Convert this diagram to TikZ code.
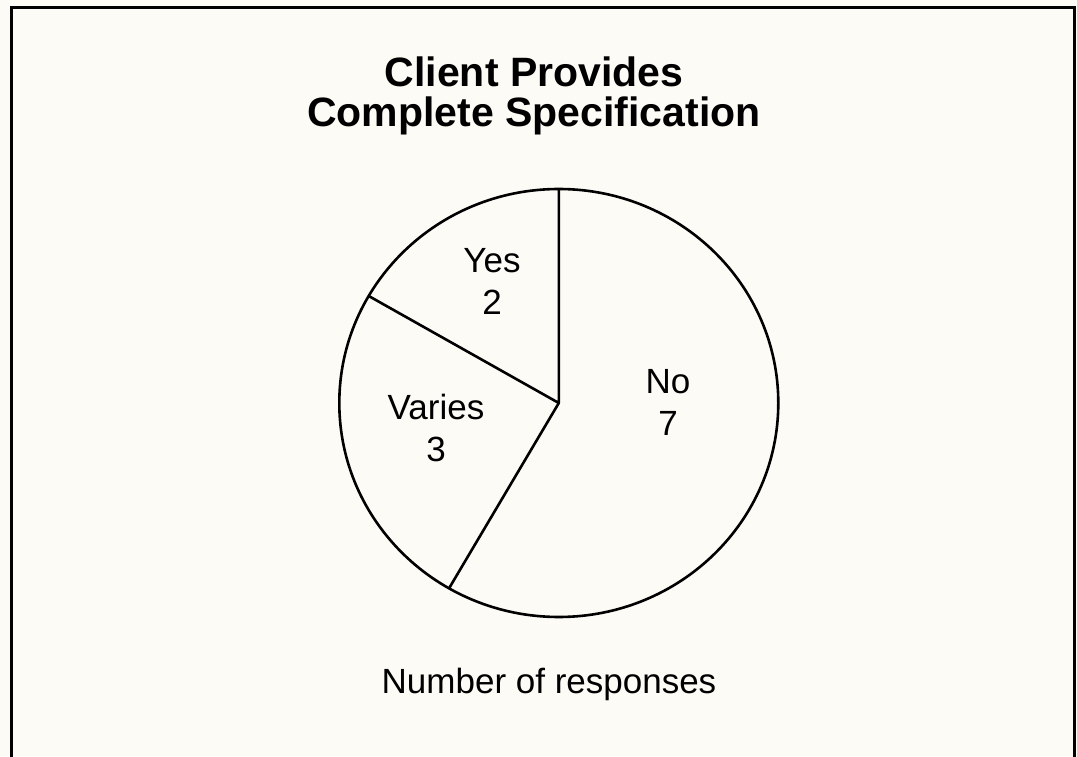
\documentclass[tikz,border=0pt]{standalone}
\usepackage{fontspec}
\setmainfont{Liberation Sans}
\usepackage{tikz}
\usetikzlibrary{calc}
\definecolor{paper}{RGB}{252,251,246}

\begin{document}
\begin{tikzpicture}[x=1pt,y=1pt,
		slice/.style={draw,line width=2.6pt,line join=round},
		lbl/.style={align=center,inner sep=0pt,font=\fontsize{35}{42}\selectfont}]
		\useasboundingbox (0,0) rectangle (1077,756);
		\fill[paper] (0,0) rectangle (1077,756);
		\begin{scope}
			\clip (0,0) rectangle (1077,756);
			\draw[line width=3pt] (11.5,-20) rectangle (1074.5,748.5);
		\end{scope}
		% title
		\node[align=center,inner sep=0pt,font=\bfseries\fontsize{41}{40}\selectfont] (title) at (534,660) {Client Provides\\Complete Specification};
		% pie: 2 + 3 + 7
		\coordinate (c) at (558.8,353);
		\draw[slice] (c) ellipse [x radius=219.5, y radius=214];
		\coordinate (top) at ($(c)+(90:219.5 and 214)$);
		\coordinate (yv) at ($(c)+(150:219.5 and 214)$);
		\coordinate (vn) at ($(c)+(240:219.5 and 214)$);
		\draw[slice] (top) -- (c) -- (yv);
		\draw[slice] (c) -- (vn);
		\node[lbl] (yes) at (492,474.5) {Yes\\2};
		\node[lbl] (varies) at (436,327.8) {Varies\\3};
		\node[lbl] (no) at (668,353.8) {No\\7};
		%\node[lbl] (caption) at (549,75) {Number of responses};
		\node[lbl,anchor=base] (caption) at (549,63) {Number of responses};
\end{tikzpicture}
\end{document}
